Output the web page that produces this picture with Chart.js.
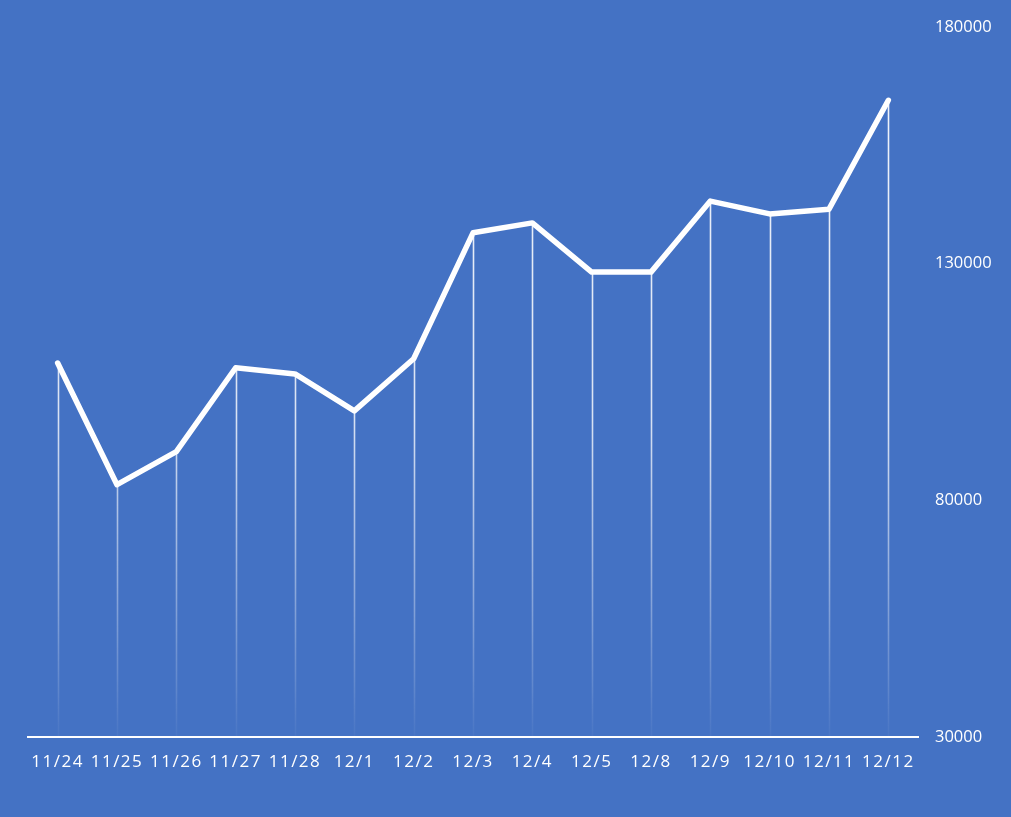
<!DOCTYPE html>
<html>
<head>
<meta charset="utf-8">
<script src="https://cdn.jsdelivr.net/npm/chart.js@4/dist/chart.umd.min.js"></script>
<style>
    html, body { margin: 0; padding: 0; background: #4472C4; }
    #wrap { width: 1011px; height: 817px; position: relative; }
</style>
</head>
<body>
<div id="wrap"><canvas id="lineChart"></canvas></div>
<script>
    "use strict";
    const dates = ['11/24','11/25','11/26','11/27','11/28','12/1','12/2','12/3','12/4','12/5','12/8','12/9','12/10','12/11','12/12'];
    const values = [109000, 83300, 90300, 108000, 106700, 98900, 109900, 136500, 138600, 128200, 128200, 143200, 140500, 141500, 164500];
    const yMin = 30000;
    const yMax = 180000;
    const yStep = 50000;

    // vertical fading lines from each point down to the axis
    const dropLines = {
        id: 'dropLines',
        beforeDatasetsDraw(chart) {
            const {ctx, chartArea, scales: {x, y}} = chart;
            const grad = ctx.createLinearGradient(0, chartArea.top, 0, chartArea.bottom);
            grad.addColorStop(0, 'rgba(255,255,255,0.95)');
            grad.addColorStop(0.55, 'rgba(255,255,255,0.8)');
            grad.addColorStop(1, 'rgba(255,255,255,0.03)');
            ctx.save();
            ctx.strokeStyle = grad;
            ctx.lineWidth = 1.6;
            values.forEach((v, i) => {
                const px = Math.round(x.getPixelForValue(i)) + 0.5;
                ctx.beginPath();
                ctx.moveTo(px, y.getPixelForValue(v));
                ctx.lineTo(px, chartArea.bottom);
                ctx.stroke();
            });
            ctx.restore();
        }
    };

    // spaced-out lettering on the date labels
    const spacedLabels = {
        id: 'spacedLabels',
        beforeDraw(chart) {
            const s = chart.scales.x;
            if (s._spaced) return;
            const orig = s.drawLabels.bind(s);
            s.drawLabels = function(area) {
                chart.ctx.save();
                chart.ctx.letterSpacing = '1.5px';
                orig(area);
                chart.ctx.restore();
            };
            s._spaced = true;
        }
    };

    document.addEventListener("DOMContentLoaded", () => {
        const c1 = document.getElementById('lineChart');
        new Chart(c1, {
            type: 'line',
            data: {
                labels: dates,
                datasets: [{
                    data: values,
                    borderColor: '#ffffff',
                    borderWidth: 5.5,
                    borderCapStyle: 'round',
                    borderJoinStyle: 'round',
                    tension: 0,
                    pointRadius: 0,
                    fill: false
                }]
            },
            options: {
                responsive: true,
                maintainAspectRatio: false,
                animation: false,
                layout: { padding: { left: 28, top: 25, right: 0, bottom: 0 } },
                plugins: {
                    legend: { display: false },
                    tooltip: { enabled: false }
                },
                scales: {
                    x: {
                        offset: true,
                        grid: { display: false, drawTicks: false },
                        border: { display: true, color: '#ffffff', width: 2 },
                        ticks: {
                            color: '#ffffff',
                            font: { family: 'Open Sans', size: 17 },
                            padding: 15,
                            autoSkip: false,
                            maxRotation: 0
                        },
                        afterFit(scale) { scale.height = 80; }
                    },
                    y: {
                        position: 'right',
                        min: yMin,
                        max: yMax,
                        grid: { display: false, drawTicks: false },
                        border: { display: false },
                        ticks: {
                            stepSize: yStep,
                            color: '#ffffff',
                            font: { family: 'Open Sans', size: 16.5 },
                            padding: 17,
                            callback: v => String(v)
                        },
                        afterFit(scale) { scale.width = 93; }
                    }
                }
            },
            plugins: [dropLines, spacedLabels]
        });
    });
</script>
</body>
</html>
